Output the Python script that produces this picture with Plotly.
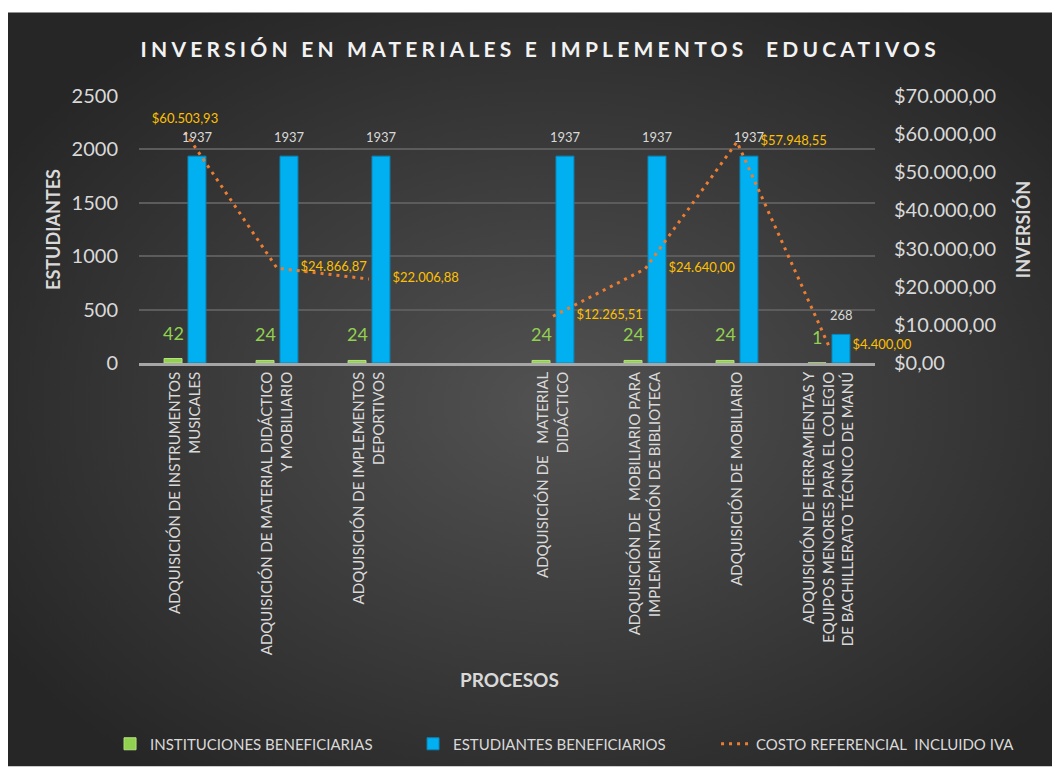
import base64
import plotly.graph_objects as go

# ---- data ----
procesos = [
    "ADQUISICIÓN DE INSTRUMENTOS<br>MUSICALES",
    "ADQUISICIÓN DE MATERIAL DIDÁCTICO<br>Y MOBILIARIO",
    "ADQUISICIÓN DE IMPLEMENTOS<br>DEPORTIVOS",
    " ",
    "ADQUISICIÓN DE   MATERIAL<br>DIDÁCTICO",
    "ADQUISICIÓN DE   MOBILIARIO PARA<br>IMPLEMENTACIÓN DE BIBLIOTECA",
    "ADQUISICIÓN DE MOBILIARIO",
    "ADQUISICIÓN DE HERRAMIENTAS Y<br>EQUIPOS MENORES PARA EL COLEGIO<br>DE BACHILLERATO TÉCNICO DE MANÚ",
]
instituciones = [42, 24, 24, None, 24, 24, 24, 1]
estudiantes = [1937, 1937, 1937, None, 1937, 1937, 1937, 268]
costo = [60503.93, 24866.87, 22006.88, None, 12265.51, 24640.00, 57948.55, 4400.00]

FONT = "Lato"
LIGHT = "#d9d9d9"

# dark radial gradient background (Excel dark chart style)
svg = (
    '<svg xmlns="http://www.w3.org/2000/svg" width="1052" height="757" preserveAspectRatio="none">'
    '<defs><radialGradient id="g" cx="52%" cy="52%" r="62%">'
    '<stop offset="0" stop-color="#525252"/><stop offset="1" stop-color="#262626"/>'
    '</radialGradient></defs><rect width="100%" height="100%" fill="url(#g)"/></svg>'
)
bg_src = "data:image/svg+xml;base64," + base64.b64encode(svg.encode()).decode()

fig = go.Figure()

fig.add_trace(go.Bar(
    name="INSTITUCIONES BENEFICIARIAS",
    x=procesos, y=instituciones,
    marker=dict(color="#92d050", line=dict(color="#b5e37f", width=1)),
))
fig.add_trace(go.Bar(
    name="ESTUDIANTES BENEFICIARIOS",
    x=procesos, y=estudiantes,
    marker=dict(color="#00b0f0", line=dict(color="#0a86bb", width=1)),
))
fig.add_trace(go.Scatter(
    name="COSTO REFERENCIAL  INCLUIDO IVA",
    x=procesos, y=costo, yaxis="y2",
    mode="lines", connectgaps=False,
    line=dict(color="#ed7d31", width=3, dash="3px,5px"),
))

# value labels of the cost line (invisible markers only push the text off the point)
text_pos = ["top center"] + ["middle right"] * (len(costo) - 1)
mk_size = [8] + [36] * (len(costo) - 1)
fig.add_trace(go.Scatter(
    x=procesos, y=costo, yaxis="y2",
    mode="markers+text", showlegend=False, hoverinfo="skip",
    cliponaxis=False,
    marker=dict(size=mk_size, color="#ed7d31", opacity=0),
    texttemplate="%{y:$,.2f}",
    textposition=text_pos,
    textfont=dict(family=FONT, size=13, color="#ffc000"),
))

# data labels on the bars
annotations = []
for cat, v in zip(procesos, instituciones):
    if v is None:
        continue
    annotations.append(dict(x=cat, y=v, xref="x", yref="y", text=str(v), showarrow=False,
                            xshift=-12, yshift=26, yanchor="middle",
                            font=dict(family=FONT, size=18, color="#92d050")))
for cat, v in zip(procesos, estudiantes):
    if v is None:
        continue
    annotations.append(dict(x=cat, y=v, xref="x", yref="y", text=str(v), showarrow=False,
                            xshift=12, yshift=19, yanchor="middle",
                            font=dict(family=FONT, size=13, color=LIGHT)))

annotations.append(dict(text="<b>PROCESOS</b>", x=0.503, y=-1.187, xref="paper", yref="paper",
                        xanchor="center", yanchor="middle", showarrow=False,
                        font=dict(family=FONT, size=19, color=LIGHT)))

fig.update_layout(
    width=1052, height=761,
    margin=dict(l=131, r=185, t=88, b=405),
    paper_bgcolor="white",
    plot_bgcolor="rgba(0,0,0,0)",
    separators=",.",
    barmode="group",
    bargap=0.48,
    bargroupgap=0.25,
    title=dict(text='<span style="letter-spacing:4.2px"><b>INVERSIÓN EN MATERIALES E IMPLEMENTOS  EDUCATIVOS</b></span>',
               x=0.506, xanchor="center", y=0.945, yanchor="middle",
               font=dict(family=FONT, size=21, color="#f2f2f2")),
    font=dict(family=FONT, color=LIGHT),
    xaxis=dict(
        type="category", tickangle=-90, automargin=False,
        range=[-0.5, len(procesos) - 0.5],
        tickfont=dict(family=FONT, size=15, color=LIGHT),
        showgrid=False, showline=True, linecolor="#a6a6a6", linewidth=2.5,
        ticks="", zeroline=False,
    ),
    yaxis=dict(
        range=[0, 2500], dtick=500, tickformat="d", automargin=False,
        tickfont=dict(family=FONT, size=20, color=LIGHT),
        gridcolor="#5c5c5c", gridwidth=1.5, zeroline=False,
        ticklabelstandoff=20,
        title=dict(text="<b>ESTUDIANTES</b>", standoff=6,
                   font=dict(family=FONT, size=18, color=LIGHT)),
    ),
    yaxis2=dict(
        range=[0, 70000], dtick=10000, tickformat="$,.2f", overlaying="y", side="right",
        automargin=False, showgrid=False, zeroline=False,
        tickfont=dict(family=FONT, size=20, color=LIGHT),
        ticklabelstandoff=18,
        title=dict(text="<b>INVERSIÓN</b>", standoff=22,
                   font=dict(family=FONT, size=18, color=LIGHT)),
    ),
    legend=dict(orientation="h", x=1.1957, xanchor="right", y=-1.418, yanchor="middle",
                font=dict(family=FONT, size=15, color=LIGHT), bgcolor="rgba(0,0,0,0)",
                entrywidthmode="pixels", entrywidth=258),
    annotations=annotations,
    images=[dict(source=bg_src, xref="paper", yref="paper",
                 x=-0.178, y=1.3134, sizex=1.4293, sizey=2.8246,
                 sizing="stretch", xanchor="left", yanchor="top", layer="below")],
    showlegend=True,
)

fig.write_html("out.html")
